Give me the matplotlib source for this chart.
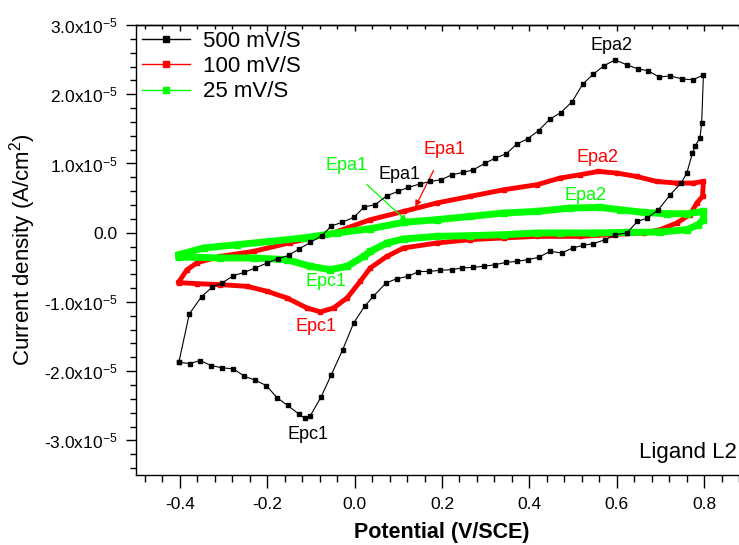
import matplotlib
matplotlib.use("Agg")
import matplotlib.pyplot as plt
from matplotlib.lines import Line2D
from matplotlib.ticker import MultipleLocator, FuncFormatter, NullFormatter

plt.rcParams["font.family"] = ["Liberation Sans", "DejaVu Sans"]
plt.rcParams["mathtext.fontset"] = "custom"
plt.rcParams["mathtext.rm"] = "Liberation Sans"
plt.rcParams["mathtext.it"] = "Liberation Sans:italic"
plt.rcParams["mathtext.bf"] = "Liberation Sans:bold"
plt.rcParams["mathtext.default"] = "regular"
plt.rcParams["axes.unicode_minus"] = False

SCALE = 1e-5

# 500 mV/S  (potential in V, current density in units of 1e-5 A/cm2)
e_500 = [-0.402, -0.378, -0.350, -0.326, -0.303, -0.277, -0.252, -0.227, -0.200, -0.175,
         -0.151, -0.126, -0.101, -0.075, -0.053, -0.029, -0.002, 0.022, 0.047, 0.074,
         0.099, 0.123, 0.149, 0.173, 0.198, 0.223, 0.248, 0.272, 0.299, 0.322,
         0.347, 0.371, 0.396, 0.421, 0.447, 0.472, 0.498, 0.522, 0.546, 0.571,
         0.596, 0.623, 0.648, 0.672, 0.697, 0.722, 0.748, 0.774, 0.798,
         0.794, 0.790, 0.779, 0.773, 0.760, 0.747, 0.722, 0.695, 0.670, 0.647,
         0.623, 0.596, 0.573, 0.546, 0.522, 0.499, 0.474, 0.447, 0.421, 0.396,
         0.371, 0.347, 0.322, 0.295, 0.271, 0.245, 0.223, 0.196, 0.171, 0.146,
         0.122, 0.097, 0.072, 0.043, 0.023, -0.002, -0.027, -0.053, -0.077, -0.101,
         -0.114, -0.128, -0.153, -0.177, -0.202, -0.227, -0.252, -0.277, -0.303, -0.328,
         -0.353, -0.377, -0.402]
j_500 = [-1.872, -1.173, -0.923, -0.789, -0.726, -0.620, -0.573, -0.509, -0.437, -0.375,
         -0.328, -0.231, -0.140, -0.043, 0.097, 0.149, 0.221, 0.371, 0.404, 0.534,
         0.596, 0.654, 0.703, 0.740, 0.765, 0.837, 0.870, 0.909, 1.006, 1.078,
         1.140, 1.280, 1.356, 1.476, 1.641, 1.736, 1.895, 2.146, 2.290, 2.414,
         2.496, 2.424, 2.367, 2.338, 2.247, 2.266, 2.222, 2.208, 2.280,
         1.583, 1.367, 1.255, 1.150, 0.861, 0.717, 0.548, 0.332, 0.212, 0.163,
         -0.004, -0.029, -0.101, -0.159, -0.183, -0.221, -0.293, -0.270, -0.356, -0.390,
         -0.414, -0.429, -0.462, -0.486, -0.501, -0.509, -0.534, -0.544, -0.558, -0.563,
         -0.631, -0.664, -0.726, -0.919, -1.063, -1.303, -1.688, -2.049, -2.377, -2.641,
         -2.680, -2.616, -2.496, -2.385, -2.208, -2.131, -2.074, -1.967, -1.952, -1.919,
         -1.847, -1.890, -1.872]

# 100 mV/S
e_100 = [-0.402, -0.383, -0.360, -0.307, -0.231, -0.147, -0.049, 0.036, 0.112, 0.188,
         0.264, 0.341, 0.417, 0.470, 0.516, 0.558, 0.600, 0.645, 0.691, 0.737,
         0.775, 0.798, 0.796, 0.783, 0.767, 0.737, 0.699, 0.661, 0.584, 0.516,
         0.417, 0.341, 0.264, 0.188, 0.112, 0.074, 0.036, 0.013, -0.017, -0.048,
         -0.078, -0.109, -0.155, -0.200, -0.246, -0.307, -0.360, -0.402]
j_100 = [-0.707, -0.534, -0.433, -0.342, -0.270, -0.144, -0.004, 0.188, 0.307, 0.429,
         0.524, 0.620, 0.693, 0.789, 0.837, 0.885, 0.861, 0.812, 0.740, 0.717,
         0.717, 0.740, 0.524, 0.429, 0.260, 0.140, 0.043, -0.004, -0.029, -0.053,
         -0.053, -0.076, -0.101, -0.149, -0.221, -0.342, -0.509, -0.703, -0.942, -1.087,
         -1.144, -1.087, -0.942, -0.847, -0.775, -0.750, -0.736, -0.722]

# 25 mV/S
e_25 = [-0.402, -0.345, -0.269, -0.193, -0.117, -0.040, 0.036, 0.112, 0.188, 0.264,
        0.341, 0.417, 0.493, 0.562, 0.607, 0.661, 0.714, 0.760, 0.798, 0.798,
        0.786, 0.760, 0.699, 0.623, 0.546, 0.470, 0.417, 0.341, 0.264, 0.188,
        0.112, 0.074, 0.036, 0.021, -0.017, -0.056, -0.101, -0.155, -0.231, -0.307,
        -0.402]
j_25 = [-0.317, -0.221, -0.173, -0.126, -0.076, -0.004, 0.058, 0.149, 0.188, 0.235,
        0.284, 0.307, 0.356, 0.365, 0.332, 0.293, 0.274, 0.274, 0.307, 0.188,
        0.115, 0.043, 0.010, 0.004, -0.004, -0.004, -0.004, -0.029, -0.043, -0.053,
        -0.091, -0.149, -0.270, -0.342, -0.486, -0.534, -0.486, -0.390, -0.365, -0.365,
        -0.351]

labels = ["500 mV/S", "100 mV/S", "25 mV/S"]
colors = ["black", "#ff0000", "#00ff00"]

# peak labels: (text, x, y in 1e-5, color)
peak_labels = [
    ("Epa2", 0.587, 2.70, "black"),
    ("Epa1", 0.103, 0.84, "black"),
    ("Epc1", -0.107, -2.91, "black"),
    ("Epa2", 0.556, 1.08, "#ff0000"),
    ("Epc1", -0.089, -1.36, "#ff0000"),
    ("Epa2", 0.528, 0.54, "#00ff00"),
    ("Epc1", -0.065, -0.71, "#00ff00"),
]
# labels with arrows: (text, text x, text y, arrow tip x, arrow tip y, color)
arrow_labels = [
    ("Epa1", 0.205, 1.205, 0.139, 0.375, "#ff0000"),
    ("Epa1", -0.019, 0.967, 0.120, 0.163, "#00ff00"),
]


def scaled(vals):
    return [v * SCALE for v in vals]


def y_fmt(v, pos):
    m = round(v / SCALE, 1)
    if abs(m) < 1e-9:
        return "0.0"
    return f"{m:.1f}x10$^{{-5}}$"


fig = plt.figure(figsize=(7.39, 5.45), dpi=100)
ax = fig.add_axes([136 / 739, 1 - 475 / 545, 612 / 739, 450 / 545])

ax.plot(e_100, scaled(j_100), color=colors[1], lw=3.5, marker="s", ms=3.5, zorder=2)
ax.plot(e_25, scaled(j_25), color=colors[2], lw=5, marker="s", ms=4, zorder=3)
ax.plot(e_500, scaled(j_500), color=colors[0], lw=0.8, marker="s", ms=3, zorder=4)

for text, x, y, c in peak_labels:
    ax.text(x, y * SCALE, text, color=c, fontsize=13, ha="center", va="center")

for text, tx, ty, ax_, ay, c in arrow_labels:
    ax.annotate(text, xy=(ax_, ay * SCALE), xytext=(tx, ty * SCALE), color=c,
                fontsize=13, ha="center", va="center",
                arrowprops=dict(arrowstyle="-|>", color=c, lw=0.9,
                                shrinkA=8, shrinkB=0, mutation_scale=9))

ax.text(0.875, -3.175 * SCALE, "Ligand L2", fontsize=16, ha="right", va="center")

ax.set_xlim(-0.5, 0.9)
ax.set_ylim(-3.5e-5, 3.0e-5)
ax.xaxis.set_major_locator(MultipleLocator(0.2))
ax.xaxis.set_minor_locator(MultipleLocator(0.04))
ax.yaxis.set_major_locator(MultipleLocator(1e-5))
ax.yaxis.set_minor_locator(MultipleLocator(0.2e-5))
ax.yaxis.set_major_formatter(FuncFormatter(y_fmt))
ax.xaxis.set_major_formatter(FuncFormatter(lambda v, p: f"{v:.1f}"))

ax.tick_params(axis="both", which="major", direction="out", labelsize=12.5, width=1)
ax.tick_params(axis="x", which="major", length=9, pad=7)
ax.tick_params(axis="y", which="major", length=7, pad=6)
ax.tick_params(axis="x", which="minor", direction="out", length=5, width=1)
ax.tick_params(axis="y", which="minor", direction="out", length=4, width=1)
for sp in ax.spines.values():
    sp.set_linewidth(1.0)

# top axis: inward ticks only
top = ax.secondary_xaxis("top")
top.xaxis.set_major_locator(MultipleLocator(0.2))
top.xaxis.set_minor_locator(MultipleLocator(0.04))
top.xaxis.set_major_formatter(NullFormatter())
top.tick_params(which="major", direction="in", length=4, width=1)
top.tick_params(which="minor", direction="in", length=3, width=1)
top.spines["top"].set_linewidth(1.0)

ax.set_xlabel("Potential (V/SCE)", fontsize=15.5, fontweight="bold")
ax.xaxis.set_label_coords(0.5, -0.105)
ax.set_ylabel("Current density (A/cm$^2$)", fontsize=16)
ax.yaxis.set_label_coords(-0.16, 0.5)

handles = [Line2D([], [], color=c, lw=1, marker="s", ms=4) for c in colors]
ax.legend(handles, labels, loc="upper left", frameon=False, fontsize=16,
          handlelength=2.2, handletextpad=0.55, labelspacing=0.2,
          borderaxespad=0.1, borderpad=0.15)

fig.savefig("out.png", dpi=100)
